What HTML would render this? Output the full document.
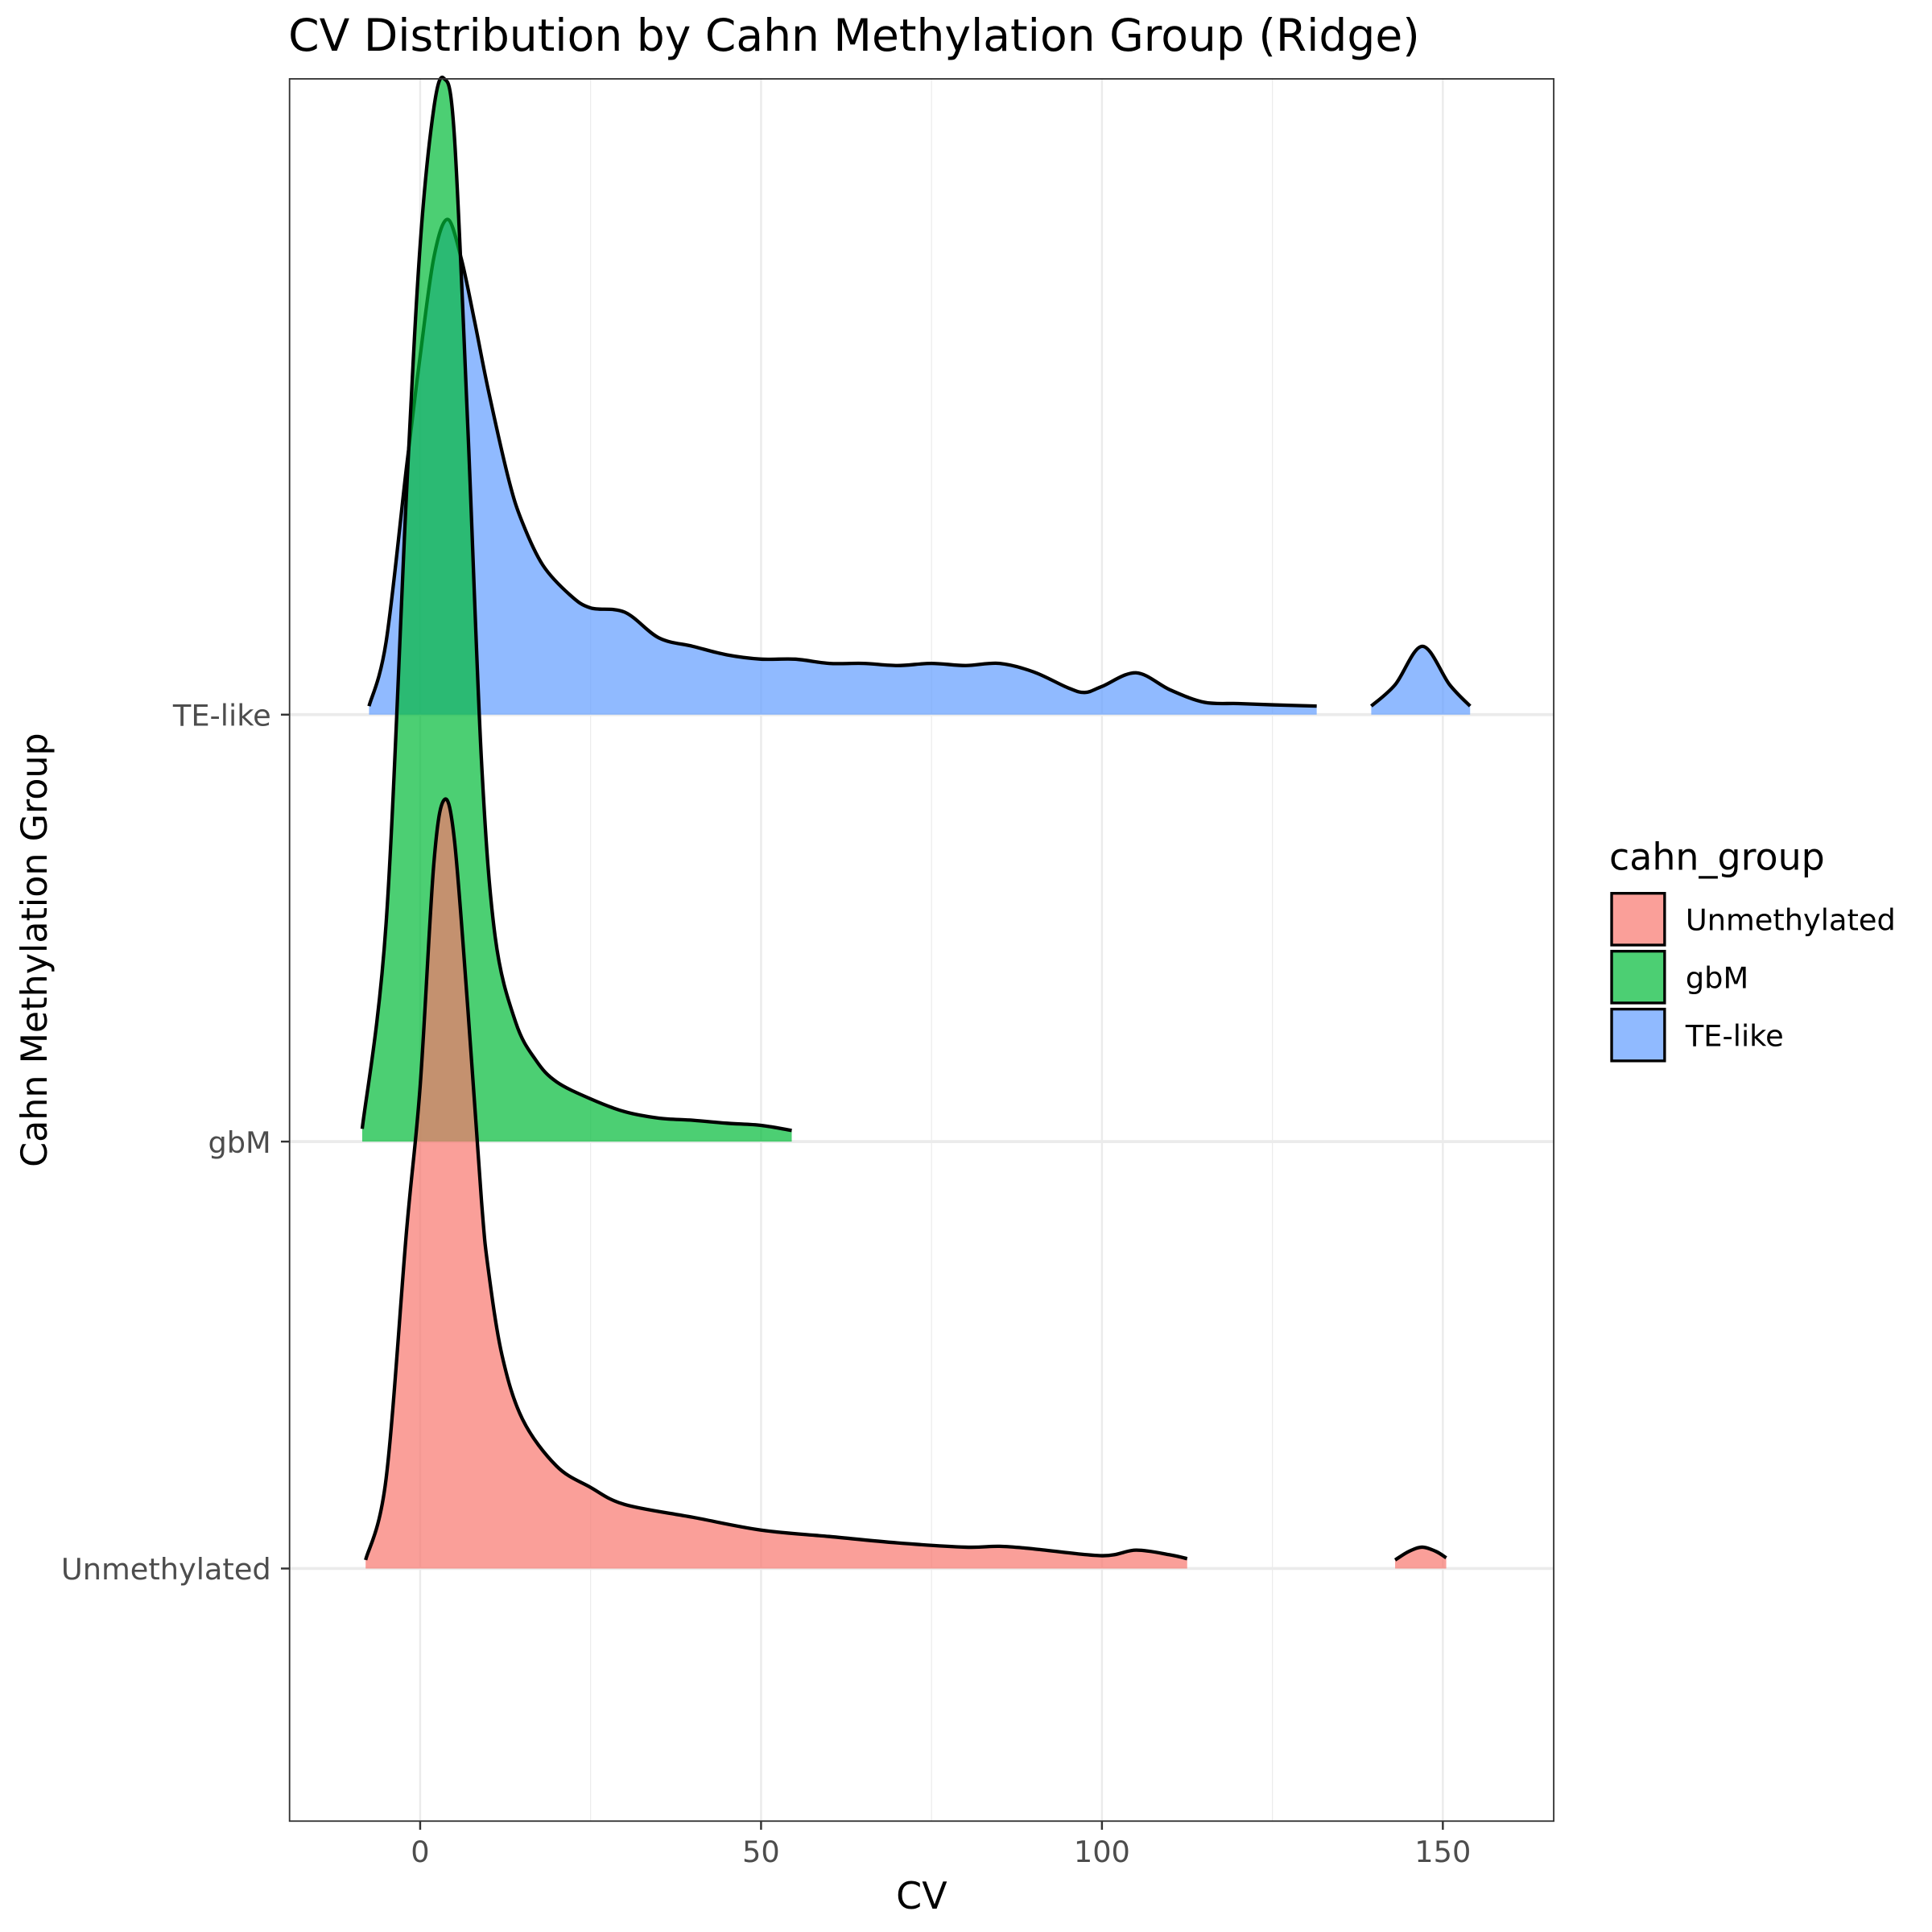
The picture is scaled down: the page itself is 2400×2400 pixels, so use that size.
<!DOCTYPE html>
<html><head><meta charset="utf-8"><style>
html,body{margin:0;padding:0;background:#fff}
svg{display:block;font-family:"DejaVu Sans","Liberation Sans",sans-serif}
</style></head><body>
<svg id="chart" width="2400" height="2400" viewBox="0 0 1568 1568" xmlns="http://www.w3.org/2000/svg">
<rect width="1568" height="1568" fill="#fff"/>
<text x="234" y="41" font-size="36" fill="#000">CV Distribution by Cahn Methylation Group (Ridge)</text>
<rect x="235" y="64" width="1026" height="1414" fill="#fff"/>
<g id="grid"></g>
<g id="ridges"></g>
<rect x="235" y="64" width="1026" height="1414" fill="none" stroke="#333" stroke-width="1.2"/>
<g id="axes"></g>
<text x="748" y="1549" font-size="30" text-anchor="middle">CV</text>
<text transform="translate(38,771) rotate(-90)" font-size="29" text-anchor="middle">Cahn Methylation Group</text>
<g id="legend">
<text x="1306" y="706" font-size="30">cahn_group</text>
</g>
</svg>
<script>
const groups = ["Unmethylated","gbM","TE-like"];
const colors = ["#F8766D","#00BA38","#619CFF"];
const xTicks = [0,50,100,150];
const xMinorGrid = [25,75,125];
// Density curves (ridge height units), per segment
const unmethX = [-8,-5,-2,0,2,3.5,5,7,9,10,12,15,20,25,30,40,50,60,70,80,85,90,100,105,110,112.5];
const unmethY = [0.02,0.21,0.79,1.13,1.65,1.80,1.71,1.31,0.86,0.70,0.50,0.35,0.24,0.19,0.15,0.12,0.09,0.075,0.06,0.05,0.052,0.046,0.03,0.043,0.032,0.023];
const unmethX2 = [143,145,147,149,150.5];
const unmethY2 = [0.02,0.04,0.05,0.04,0.025];
const gbmX = [-8.5,-5,-2,0,2,3.5,5,7,9,11,14,17,20,25,30,35,40,45,50,54.5];
const gbmY = [0.03,0.51,1.52,2.10,2.42,2.49,2.36,1.67,0.89,0.48,0.28,0.19,0.14,0.10,0.07,0.055,0.05,0.043,0.038,0.026];
const teX = [-7.5,-5,-2,0,2,4,6,8,10,13,15,18,22,25,30,35,40,45,50,55,60,65,70,75,80,85,90,95,97.5,100,105,110,115,120,125,131.5];
const teY = [0.02,0.17,0.58,0.84,1.07,1.16,1.07,0.92,0.76,0.55,0.45,0.35,0.28,0.25,0.24,0.18,0.16,0.14,0.13,0.13,0.12,0.12,0.115,0.12,0.115,0.12,0.10,0.063,0.052,0.066,0.098,0.058,0.029,0.026,0.023,0.02];
const teX2 = [139.5,143,147,151,154];
const teY2 = [0.02,0.07,0.16,0.07,0.02];

const NS="http://www.w3.org/2000/svg";
const xS = v => 341 + v*(1171-341)/150;
const baseY = i => 1273 - i*346.5;
const hS = 346.5;

function mk(tag, attrs, parent){const e=document.createElementNS(NS,tag);for(const k in attrs)e.setAttribute(k,attrs[k]);parent.appendChild(e);return e;}

const grid=document.getElementById('grid');
xMinorGrid.forEach(v=>{const l=mk('line',{x1:xS(v),x2:xS(v),y1:64,y2:1478,stroke:'#ebebeb','stroke-width':0.8},grid);

});
xTicks.forEach(v=>{const l=mk('line',{x1:xS(v),x2:xS(v),y1:64,y2:1478,stroke:'#ebebeb','stroke-width':1.6},grid);

});
groups.forEach((g,i)=>{const l=mk('line',{x1:235,x2:1261,y1:baseY(i),y2:baseY(i),stroke:'#ebebeb','stroke-width':2.4},grid);

});

function smooth(pts){
  let d='M'+pts[0][0]+','+pts[0][1];
  for(let i=0;i<pts.length-1;i++){
    const p0=pts[Math.max(0,i-1)],p1=pts[i],p2=pts[i+1],p3=pts[Math.min(pts.length-1,i+2)];
    const c1=[p1[0]+(p2[0]-p0[0])/6,p1[1]+(p2[1]-p0[1])/6];
    const c2=[p2[0]-(p3[0]-p1[0])/6,p2[1]-(p3[1]-p1[1])/6];
    d+=' C'+c1[0]+','+c1[1]+' '+c2[0]+','+c2[1]+' '+p2[0]+','+p2[1];
  }
  return d;
}
const ridges=document.getElementById('ridges');
const segs=[[[teX,teY],[teX2,teY2]],[[gbmX,gbmY]],[[unmethX,unmethY],[unmethX2,unmethY2]]];
const idx=[2,1,0];
idx.forEach((gi,k)=>{
  segs[k].forEach(([xs,ys])=>{
    const b=baseY(gi);
    const pts=xs.map((x,j)=>[xS(x),b-ys[j]*hS]);
    const line=smooth(pts);
    const area=mk('path',{d:line+' L'+pts[pts.length-1][0]+','+b+' L'+pts[0][0]+','+b+' Z',fill:colors[gi],'fill-opacity':0.7,stroke:'none'},ridges);
    
    
    const ln=mk('path',{d:line,fill:'none',stroke:'#000','stroke-width':2.8},ridges);
    
    
  });
});

const axes=document.getElementById('axes');
xTicks.forEach(v=>{
  const t=mk('line',{x1:xS(v),x2:xS(v),y1:1478,y2:1485,stroke:'#333','stroke-width':1.6},axes);
  
  
  const tx=mk('text',{x:xS(v),y:1511,'font-size':24,'text-anchor':'middle',fill:'#4d4d4d'},axes);
  tx.textContent=v;
  
  
});
groups.forEach((g,i)=>{
  const t=mk('line',{x1:228,x2:235,y1:baseY(i),y2:baseY(i),stroke:'#333','stroke-width':1.6},axes);
  
  
  const tx=mk('text',{x:220,y:baseY(i)+9,'font-size':24,'text-anchor':'end',fill:'#4d4d4d'},axes);
  tx.textContent=g;
  
  
});

const legend=document.getElementById('legend');
groups.forEach((g,i)=>{
  const y=725+i*47;
  const r=mk('rect',{x:1308,y:y,width:43,height:42,fill:colors[i],'fill-opacity':0.7,stroke:'#000','stroke-width':2.2},legend);
  
  
  const t=mk('text',{x:1368,y:y+30,'font-size':24,fill:'#000'},legend);
  t.textContent=g;
  
  
});
</script>
</body></html>
